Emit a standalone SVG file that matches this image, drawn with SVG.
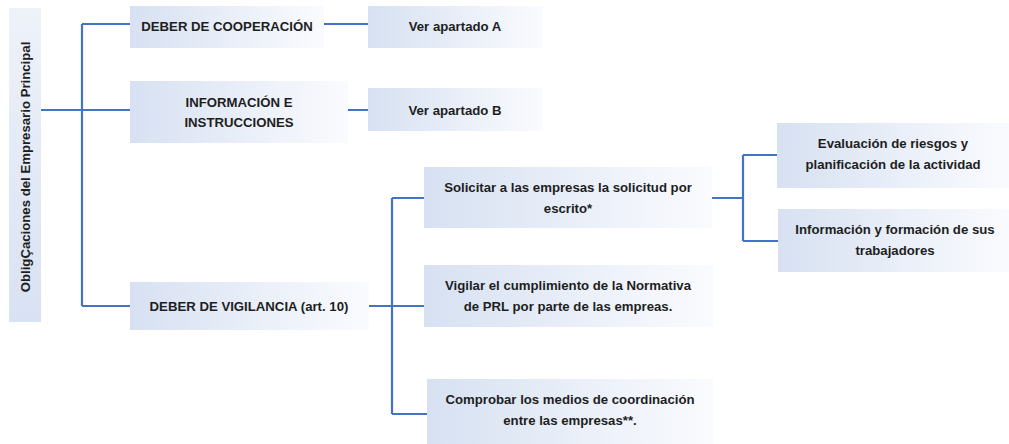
<svg xmlns="http://www.w3.org/2000/svg" width="1009" height="444" viewBox="0 0 1009 444">
<defs>
<linearGradient id="g" x1="0" y1="0" x2="1" y2="0">
<stop offset="0" stop-color="#d7e1f2"/>
<stop offset="1" stop-color="#fafbfe"/>
</linearGradient>
<linearGradient id="gv" x1="0" y1="1" x2="0" y2="0">
<stop offset="0" stop-color="#d9e2f3"/>
<stop offset="1" stop-color="#eef2f9"/>
</linearGradient>
</defs>
<style>
.box{fill:url(#g)}
.root{fill:url(#gv)}
text{font-family:"Liberation Sans",Arial,sans-serif;font-weight:bold;font-size:13.2px;fill:#1e1e1e;text-anchor:middle;dominant-baseline:central}
.c{fill:none;stroke:#4472c4;stroke-width:2.2}
</style>
<rect width="1009" height="444" fill="#ffffff"/>
<g id="connectors">
<path class="c" d="M41 110H82M82 24V306M82 24H130M82 110H130M82 306H130"/>
<path class="c" d="M324 24H368M348 110H368"/>
<path class="c" d="M369 306H425M392 198V414M392 198H424M392 414H427"/>
<path class="c" d="M711 198H743M743 155V241M743 155H777M743 241H778"/>
</g>
<g id="root">
<rect class="root" x="9" y="8" width="32" height="314"/>
<text transform="translate(25 167) rotate(-90)">ObligÇaciones del Empresario Principal</text>
</g>
<g id="cooperacion">
<rect class="box" x="130" y="6" width="194" height="42"/>
<text x="227" y="26">DEBER DE COOPERACIÓN</text>
</g>
<g id="apartadoA">
<rect class="box" x="368" y="6" width="175" height="42"/>
<text x="455" y="26">Ver apartado A</text>
</g>
<g id="informacion">
<rect class="box" x="130" y="81" width="218" height="62"/>
<text x="239" y="102">INFORMACIÓN E</text>
<text x="239" y="122">INSTRUCCIONES</text>
</g>
<g id="apartadoB">
<rect class="box" x="368" y="88" width="175" height="43"/>
<text x="455" y="110">Ver apartado B</text>
</g>
<g id="vigilancia">
<rect class="box" x="130" y="282" width="239" height="48"/>
<text x="249" y="306">DEBER DE VIGILANCIA (art. 10)</text>
</g>
<g id="solicitar">
<rect class="box" x="424" y="167" width="288" height="61"/>
<text x="568" y="187">Solicitar a las empresas la solicitud por</text>
<text x="568" y="208">escrito*</text>
</g>
<g id="vigilar">
<rect class="box" x="424" y="265" width="289" height="62"/>
<text x="568" y="285">Vigilar el cumplimiento de la Normativa</text>
<text x="568" y="306">de PRL por parte de las empreas.</text>
</g>
<g id="comprobar">
<rect class="box" x="427" y="379" width="286" height="65"/>
<text x="570" y="399">Comprobar los medios de coordinación</text>
<text x="570" y="420">entre las empresas**.</text>
</g>
<g id="evaluacion">
<rect class="box" x="777" y="123" width="232" height="65"/>
<text x="893" y="143">Evaluación de riesgos y</text>
<text x="893" y="164">planificación de la actividad</text>
</g>
<g id="formacion">
<rect class="box" x="778" y="209" width="231" height="63"/>
<text x="895" y="229">Información y formación de sus</text>
<text x="895" y="250">trabajadores</text>
</g>
</svg>
